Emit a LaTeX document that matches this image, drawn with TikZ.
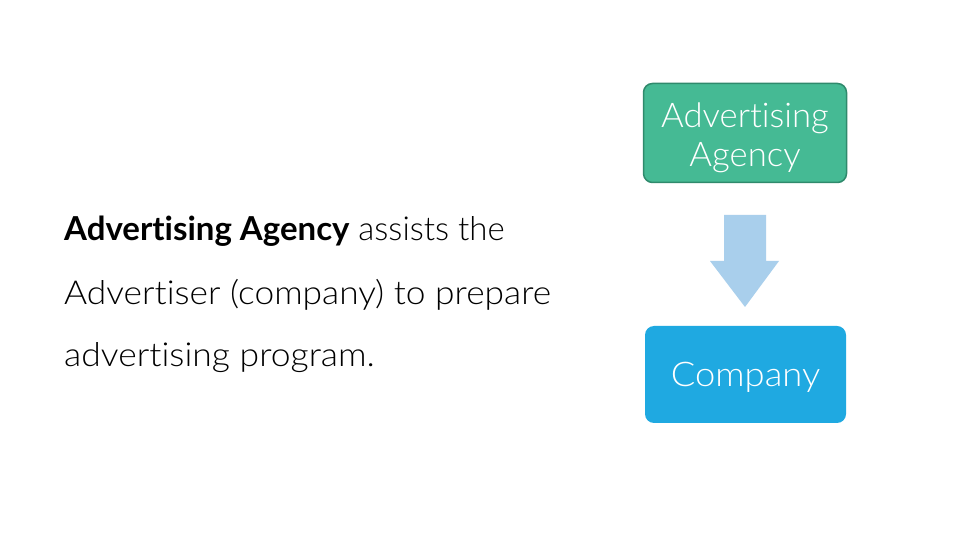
\documentclass[tikz,border=0pt]{standalone}
\usepackage{fontspec}
\setmainfont{Lato Light}[BoldFont={Lato Bold}, Ligatures={NoCommon}]
\definecolor{agencyfill}{HTML}{45BA94}
\definecolor{agencyedge}{HTML}{2F8A6C}
\definecolor{companyfill}{HTML}{1FA9E1}
\definecolor{arrowblue}{HTML}{A9CFEC}
\tikzset{
  boxtext/.style={text=white, font=\fontsize{34}{40}\selectfont, align=center},
  bodytext/.style={anchor=base west, inner sep=0pt, font=\fontsize{33}{40}\selectfont, text=black}
}
\begin{document}
\begin{tikzpicture}[x=1pt,y=1pt]
\useasboundingbox (0,0) rectangle (960,540);
\fill[white] (0,0) rectangle (960,540);
% top box
\node[draw=agencyedge, line width=1.5pt, fill=agencyfill, rounded corners=9pt,
      minimum width=203pt, minimum height=99pt] (agency) at (745,407) {};
\node[boxtext, anchor=base] (agencyt1) at (745,412) {\scalebox{1.02}[1]{Advertising}};
\node[boxtext, anchor=base] (agencyt2) at (745,373) {\scalebox{1.02}[1]{Agency}};
% company box
\node[fill=companyfill, rounded corners=9pt, minimum width=201pt, minimum height=97pt] (company) at (745.5,165.5) {};
\node[boxtext, anchor=base] (companyt) at (745.5,153) {\scalebox{1.07}[1]{Company}};
% arrow
\fill[arrowblue] (724,325) -- (766,325) -- (766,279) -- (779,279) -- (745,233) -- (710,279) -- (724,279) -- cycle;
% left text
\node[bodytext] (l1) at (64,299) {\textbf{Advertising Agency} assists the};
\node[bodytext] (l2) at (64,235) {\scalebox{1.07}[1]{Advertiser (company) to prepare}};
\node[bodytext] (l3) at (64,173) {\scalebox{1.075}[1]{advertising program.}};
\end{tikzpicture}
\end{document}
